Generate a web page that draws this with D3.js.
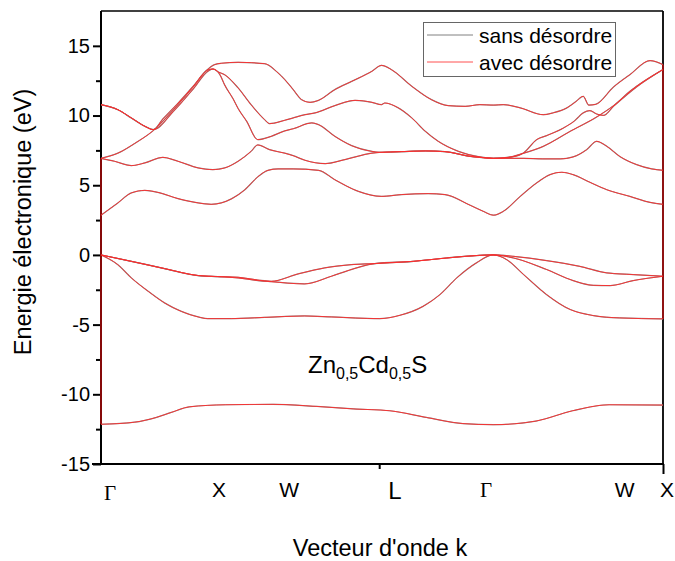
<!DOCTYPE html>
<html>
<head>
<meta charset="utf-8">
<script src="https://cdn.jsdelivr.net/npm/d3@7"></script>
<style>
  body { margin: 0; background: #fff; }
  text { font-family: "Liberation Sans", Arial, sans-serif; fill: #000; }
</style>
</head>
<body>
<svg id="chart" width="675" height="561"></svg>
<script>
// Band structure of Zn0.5Cd0.5S along Γ–X–W–L–Γ–W–X.
// Each band: [k (path coordinate, 0..100), E (eV)]
const coreBand = [[0,-12.15],[6.0,-12.0],[9.9,-11.65],[12.5,-11.3],[15.7,-10.9],[22.2,-10.75],[30.6,-10.72],[38.4,-10.87],[45.0,-11.05],[51.4,-11.18],[57.9,-11.66],[64.4,-12.1],[69.8,-12.18],[77.4,-11.92],[83.9,-11.18],[90.4,-10.75],[100,-10.77]];

const valenceLow = [[0,0],[3.0,-0.7],[5.4,-1.65],[8.4,-2.61],[11.3,-3.44],[14.3,-4.05],[17.3,-4.45],[19.0,-4.57],[23.2,-4.57],[29.1,-4.48],[36.2,-4.38],[41.0,-4.45],[49.6,-4.57],[53.2,-4.33],[57.3,-3.69],[60.3,-2.85],[63.3,-1.65],[66.8,-0.57],[69.8,0],[72.2,-0.34],[75.2,-1.41],[79.3,-2.85],[83.5,-3.92],[87.6,-4.35],[92.3,-4.52],[100,-4.59]];

const valenceMid = [[0,0],[5.4,-0.46],[11.3,-0.98],[17.3,-1.48],[20.8,-1.55],[24.4,-1.6],[27.9,-1.8],[30.3,-1.89],[35.1,-1.36],[39.8,-0.93],[44.5,-0.7],[48.7,-0.62],[55.6,-0.46],[61.5,-0.22],[67.4,-0.03],[69.8,0],[73.4,-0.22],[79.3,-1.05],[84.0,-1.84],[87.6,-2.18],[90.6,-2.2],[94.7,-1.84],[100,-1.53]];

const valenceTop = [[0,0],[5.4,-0.46],[11.3,-0.98],[17.3,-1.48],[20.8,-1.56],[24.4,-1.65],[27.9,-1.84],[30.3,-1.92],[36.2,-2.08],[41.0,-1.53],[44.5,-1.05],[48.7,-0.62],[55.6,-0.46],[61.5,-0.22],[67.4,-0.03],[69.8,0],[73.4,-0.1],[79.3,-0.41],[85.2,-0.82],[90.0,-1.29],[94.7,-1.41],[100,-1.53]];

const cond1 = [[0,2.85],[3.0,3.73],[5.4,4.45],[7.8,4.63],[10.1,4.49],[13.7,4.04],[17.3,3.73],[19.6,3.63],[21.4,3.73],[23.2,4.02],[25.6,4.68],[27.9,5.6],[29.7,6.07],[31.5,6.17],[34.2,6.17],[38.7,6.07],[41.6,5.4],[45.8,4.56],[49.9,4.2],[53.5,4.33],[58.2,4.4],[61.2,4.33],[65.7,3.56],[68.0,3.13],[69.8,2.85],[71.6,3.13],[74.6,4.2],[77.5,5.16],[79.9,5.76],[82.0,5.93],[84.0,5.76],[87.0,5.21],[90.0,4.68],[94.1,4.2],[97.7,3.77],[100,3.63]];

const cond2 = [[0,6.93],[2.4,6.72],[5.4,6.41],[7.8,6.6],[11.0,7.0],[13.7,6.72],[17.3,6.24],[19.9,6.12],[22.0,6.24],[24.4,6.72],[26.7,7.43],[27.9,7.89],[30.0,7.55],[32.7,7.3],[34.2,7.12],[36.3,6.79],[39.9,6.55],[43.4,6.84],[48.2,7.3],[49.6,7.36],[53.5,7.41],[57.7,7.46],[61.2,7.41],[65.7,7.07],[67.4,7.0],[69.8,6.93],[72.0,6.93],[75.2,6.93],[78.6,6.89],[81.7,6.89],[84.0,7.03],[86.4,7.55],[88.2,8.15],[90.0,7.79],[92.3,7.07],[95.3,6.48],[98.0,6.17],[100,6.07]];

const cond3 = [[0,6.93],[3.0,7.3],[6.0,8.0],[9.3,8.92],[12.9,10.42],[16.4,12.05],[19.1,13.29],[19.9,13.34],[21.2,12.9],[22.0,12.2],[23.5,11.2],[24.4,10.5],[25.9,9.6],[27.9,8.27],[30.3,8.51],[32.7,8.9],[34.2,9.05],[37.5,9.47],[38.7,9.35],[41.6,8.51],[44.6,7.84],[48.2,7.43],[49.6,7.36],[53.5,7.41],[57.7,7.46],[61.2,7.41],[65.7,7.07],[67.4,7.0],[69.8,6.93],[72.5,7.0],[75.2,7.3],[78.7,7.79],[83.5,8.87],[88.2,9.9],[91.2,10.71],[94.1,11.74],[100,13.3]];

const cond4 = [[0,10.78],[3.0,10.42],[5.4,9.83],[7.8,9.23],[9.3,8.99],[12.9,10.3],[16.4,11.9],[19.1,13.2],[19.9,13.34],[21.0,13.1],[22.0,12.93],[24.4,11.98],[26.7,10.78],[29.1,9.71],[30.0,9.42],[32.7,9.66],[34.2,9.83],[36.3,10.06],[38.1,10.19],[41.6,10.71],[45.2,11.09],[48.2,10.95],[49.9,10.78],[50.5,10.9],[52.9,10.55],[55.3,9.83],[57.7,8.87],[60.0,8.15],[63.6,7.43],[67.4,7.03],[69.8,6.93],[73.4,7.05],[75.2,7.32],[77.5,8.27],[79.3,8.56],[82.3,9.11],[84.2,9.6],[85.8,10.19],[87.0,10.35],[88.2,10.11],[89.4,10.01],[91.2,10.66],[95.3,12.05],[100,13.3]];

const cond5 = [[0,10.78],[3.0,10.42],[5.4,9.83],[7.8,9.23],[9.3,8.99],[11.0,9.75],[13.5,10.8],[16.4,12.1],[18.8,13.25],[20.2,13.65],[21.4,13.75],[24.4,13.82],[29.1,13.72],[31.5,13.06],[32.7,12.58],[34.2,11.86],[35.7,11.14],[37.2,10.95],[38.7,11.09],[41.6,11.86],[44.6,12.45],[48.2,13.17],[49.9,13.6],[51.7,13.29],[55.3,12.1],[58.8,11.14],[61.8,10.71],[64.8,10.66],[67.4,10.78],[69.8,10.75],[71.6,10.78],[74.6,10.55],[78.7,10.06],[80.5,10.2],[82.9,10.55],[84.5,11.0],[85.8,11.38],[86.8,10.75],[88.0,10.8],[91.2,12.05],[94.1,12.93],[97.7,13.94],[100,13.65]];

// The two calculations coincide at this scale, so both series share the band readings.
const bandsSansDesordre = [coreBand, valenceLow, valenceMid, valenceTop, cond1, cond2, cond3, cond4, cond5];
const bandsAvecDesordre = [coreBand, valenceLow, valenceMid, valenceTop, cond1, cond2, cond3, cond4, cond5];

// Vertical joins between consecutive bands at the path ends: [k, E from, E to]
const edgeLinksAvec = [[0, -12.15, 6.93], [100, -4.59, 13.65]];

// Axis ticks and labels
const yMajorTicks = [-15, -10, -5, 0, 5, 10, 15];
const yMinorTicks = [-12.5, -7.5, -2.5, 2.5, 7.5, 12.5];
const xMajorTicks = [100];
const xMinorTicks = [49.5];
const kPointLabels = [
  { name: "Γ", k: 1.6, serif: true },
  { name: "X", k: 21.0 },
  { name: "W", k: 33.5 },
  { name: "L", k: 52.3, big: true },
  { name: "Γ", k: 68.5, serif: true },
  { name: "W", k: 93.2 },
  { name: "X", k: 100.7 }
];
const seriesNames = ["sans désordre", "avec désordre"];

const svg = d3.select("#chart");
const plot = { left: 101, right: 663, top: 11, bottom: 464 };

const x = d3.scaleLinear().domain([0, 100]).range([plot.left, plot.right]);
const y = d3.scaleLinear().domain([-15, 17.5]).range([plot.bottom, plot.top]);

// Y axis: major and minor ticks
const yMajor = svg.append("g").attr("transform", `translate(${plot.left},0)`)
  .call(d3.axisLeft(y).tickValues(yMajorTicks).tickSize(8).tickPadding(3).tickFormat(d => String(d)));
yMajor.select(".domain").remove();
yMajor.selectAll("line").attr("stroke", "#000").attr("stroke-width", 2);
yMajor.selectAll("text").style("font-size", "20px").attr("fill", "#000");

const yMinor = svg.append("g").attr("transform", `translate(${plot.left},0)`)
  .call(d3.axisLeft(y).tickValues(yMinorTicks).tickSize(5).tickFormat(""));
yMinor.select(".domain").remove();
yMinor.selectAll("line").attr("stroke", "#000").attr("stroke-width", 2);

// X axis ticks
const xMajor = svg.append("g").attr("transform", `translate(0,${plot.bottom})`)
  .call(d3.axisBottom(x).tickValues(xMajorTicks).tickSize(10).tickFormat(""));
xMajor.select(".domain").remove();
xMajor.selectAll("line").attr("stroke", "#000").attr("stroke-width", 2);

const xMinor = svg.append("g").attr("transform", `translate(0,${plot.bottom})`)
  .call(d3.axisBottom(x).tickValues(xMinorTicks).tickSize(5).tickFormat(""));
xMinor.select(".domain").remove();
xMinor.selectAll("line").attr("stroke", "#000").attr("stroke-width", 2);

// Frame
svg.append("line").attr("x1", plot.left).attr("x2", plot.right).attr("y1", plot.top).attr("y2", plot.top)
  .attr("stroke", "#000").attr("stroke-width", 1.6);
svg.append("line").attr("x1", plot.right).attr("x2", plot.right).attr("y1", plot.top).attr("y2", plot.bottom)
  .attr("stroke", "#000").attr("stroke-width", 1.8);
svg.append("line").attr("x1", plot.left).attr("x2", plot.left).attr("y1", plot.top).attr("y2", plot.bottom + 1)
  .attr("stroke", "#000").attr("stroke-width", 2);
svg.append("line").attr("x1", plot.left - 9).attr("x2", plot.right + 1).attr("y1", plot.bottom).attr("y2", plot.bottom)
  .attr("stroke", "#000").attr("stroke-width", 2);

// Bands: grey series underneath, red series on top
const line = d3.line().x(d => x(d[0])).y(d => y(d[1])).curve(d3.curveMonotoneX);

svg.append("g").selectAll("path").data(bandsSansDesordre).join("path")
  .attr("d", line).attr("fill", "none").attr("stroke", "#8c8c8c").attr("stroke-width", 1.2);

svg.append("g").selectAll("path").data(bandsAvecDesordre).join("path")
  .attr("d", line).attr("fill", "none").attr("stroke", "#ff2a2a").attr("stroke-width", 0.9);

svg.append("g").selectAll("line").data(edgeLinksAvec).join("line")
  .attr("x1", d => x(d[0])).attr("x2", d => x(d[0]))
  .attr("y1", d => y(d[1])).attr("y2", d => y(d[2]))
  .attr("stroke", "#e01010").attr("stroke-width", 1.2);

// k-point labels
svg.append("g").selectAll("text").data(kPointLabels).join("text")
  .attr("x", d => x(d.k))
  .attr("y", d => d.serif ? (d.k < 10 ? 500 : 497) : (d.big ? 499 : 497))
  .attr("text-anchor", "middle")
  .style("font-family", d => d.serif ? "'Liberation Serif', 'Times New Roman', serif" : null)
  .style("font-size", d => d.big ? "24px" : "21px")
  .text(d => d.name);

// Axis titles
svg.append("text").attr("x", 380).attr("y", 556).attr("text-anchor", "middle")
  .style("font-size", "23.5px").text("Vecteur d'onde k");
svg.append("text").attr("transform", "translate(31,222) rotate(-90)").attr("text-anchor", "middle")
  .style("font-size", "23.5px").text("Energie électronique (eV)");

// Compound label
const comp = svg.append("text").attr("x", 308).attr("y", 373).style("font-size", "24px");
comp.append("tspan").text("Zn");
comp.append("tspan").attr("dy", 6).style("font-size", "16px").text("0,5");
comp.append("tspan").attr("dy", -6).text("Cd");
comp.append("tspan").attr("dy", 6).style("font-size", "16px").text("0,5");
comp.append("tspan").attr("dy", -6).text("S");

// Legend
const legend = svg.append("g");
legend.append("rect").attr("x", 423.5).attr("y", 22.5).attr("width", 192).attr("height", 54)
  .attr("fill", "#fff").attr("stroke", "#666").attr("stroke-width", 1);
const legendColors = ["#808080", "#ff5050"];
seriesNames.forEach((name, i) => {
  const ly = 35 + i * 27;
  legend.append("line").attr("x1", 427).attr("x2", 473).attr("y1", ly).attr("y2", ly)
    .attr("stroke", legendColors[i]).attr("stroke-width", 1);
  legend.append("text").attr("x", 479).attr("y", ly + 8).style("font-size", "21px").text(name);
});
</script>
</body>
</html>
